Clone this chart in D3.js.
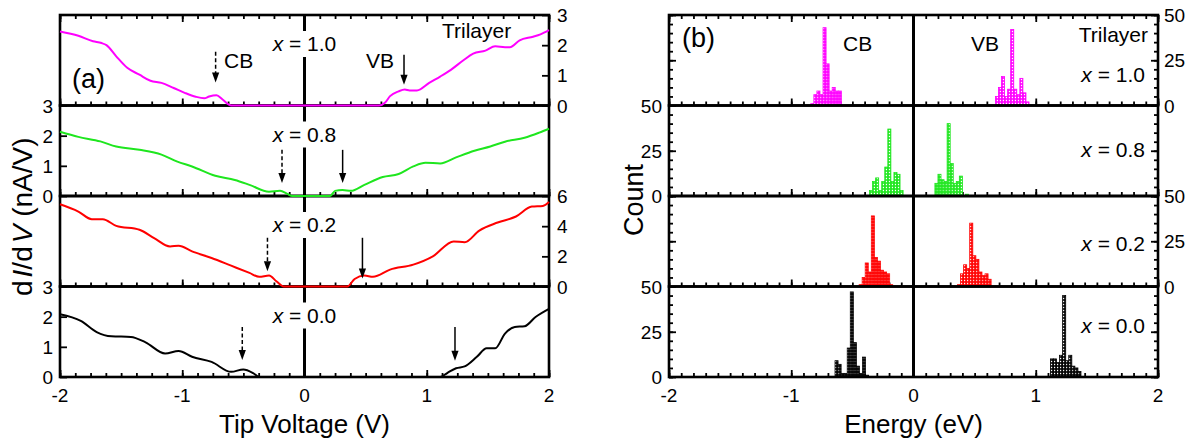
<!DOCTYPE html>
<html>
<head>
<meta charset="utf-8">
<script src="https://cdn.jsdelivr.net/npm/d3@7/dist/d3.min.js"></script>
<style>
  body { margin: 0; background: #fff; }
  svg { display: block; }
  text { font-family: "Liberation Sans", Arial, Helvetica, sans-serif; fill: #000; }
</style>
</head>
<body>
<svg id="chart" width="1198" height="443"></svg>
<script>
// ---------------- data ----------------
// compositions, from the top row to the bottom row
const compositions = ["1.0", "0.8", "0.2", "0.0"];
const rowColors = ["#ff00ff", "#1ee61e", "#ff0000", "#000000"];

// dI/dV spectra: [tip voltage (V), dI/dV (nA/V)]
const stsX10 = [[-2.0,2.45],[-1.85,2.31],[-1.73,2.13],[-1.66,2.07],[-1.62,2.0],[-1.54,1.63],[-1.45,1.25],[-1.35,1.02],[-1.26,0.82],[-1.17,0.75],[-1.07,0.58],[-0.98,0.42],[-0.89,0.29],[-0.82,0.24],[-0.78,0.3],[-0.72,0.34],[-0.67,0.2],[-0.6,0.0],[0.61,0.0],[0.66,0.1],[0.7,0.31],[0.77,0.47],[0.82,0.53],[0.86,0.5],[0.92,0.5],[1.02,0.75],[1.11,0.96],[1.2,1.19],[1.3,1.5],[1.38,1.72],[1.48,1.82],[1.56,1.96],[1.64,1.93],[1.68,1.93],[1.76,2.16],[1.87,2.28],[1.93,2.36],[2.0,2.5]];
const stsX08 = [[-2.0,2.13],[-1.85,1.96],[-1.67,1.81],[-1.54,1.64],[-1.35,1.53],[-1.17,1.37],[-1.04,1.14],[-0.92,0.98],[-0.73,0.67],[-0.57,0.53],[-0.45,0.37],[-0.29,0.14],[-0.2,0.17],[-0.14,0.07],[-0.1,0.0],[0.21,0.0],[0.25,0.17],[0.31,0.2],[0.38,0.17],[0.49,0.37],[0.64,0.63],[0.77,0.73],[0.89,0.98],[0.99,1.1],[1.11,1.08],[1.24,1.28],[1.39,1.5],[1.52,1.64],[1.64,1.8],[1.8,1.93],[1.92,2.1],[2.0,2.23]];
const stsX02 = [[-2.0,5.45],[-1.85,4.97],[-1.74,4.46],[-1.65,4.46],[-1.54,4.02],[-1.35,3.76],[-1.23,3.21],[-1.1,2.66],[-1.03,2.7],[-0.92,2.33],[-0.76,1.89],[-0.6,1.38],[-0.45,0.9],[-0.37,0.64],[-0.29,0.73],[-0.23,0.35],[-0.17,0.0],[0.35,0.0],[0.41,0.5],[0.49,0.73],[0.56,0.64],[0.7,1.12],[0.89,1.45],[1.05,2.0],[1.22,2.99],[1.31,2.93],[1.43,3.71],[1.58,4.24],[1.73,4.64],[1.86,5.3],[1.95,5.34],[2.0,5.6]];
const stsX00 = [[-2.0,2.08],[-1.83,1.86],[-1.7,1.49],[-1.58,1.35],[-1.42,1.33],[-1.3,1.15],[-1.14,0.78],[-1.03,0.86],[-0.92,0.67],[-0.76,0.5],[-0.6,0.17],[-0.5,0.25],[-0.42,0.13],[-0.37,0.0],[1.11,0.0],[1.17,0.14],[1.24,0.29],[1.31,0.35],[1.41,0.67],[1.49,0.95],[1.56,0.95],[1.64,1.44],[1.72,1.66],[1.8,1.68],[1.89,1.99],[2.0,2.26]];
const spectra = [stsX10, stsX08, stsX02, stsX00];

// band-edge markers on the spectra: voltage, arrow tail and tip (nA/V)
const cbEdgeV = [-0.727, -0.184, -0.303, -0.509];
const vbEdgeV = [0.814, 0.312, 0.474, 1.231];
const edgeTail = [1.78, 1.53, 3.23, 1.66];
const cbEdgeTip = [0.76, 0.43, 1.01, 0.56];
const vbEdgeTip = [0.69, 0.43, 0.53, 0.54];

// band-edge histograms, bin width 0.025 eV: first bin edge (eV) and counts
const binWidth = 0.025;
const cbStart = [-0.84, -0.36, -0.445, -0.642];
const vbStart = [0.67, 0.175, 0.36, 1.12];
const cbCountsX10 = [1, 6, 8, 6, 43, 23, 8, 10, 8, 8];
const vbCountsX10 = [5, 10, 16, 5, 9, 42, 9, 6, 15, 7, 2];
const cbCountsX08 = [3, 8, 10, 3, 8, 16, 37, 8, 13, 12, 3];
const vbCountsX08 = [7, 12, 9, 8, 40, 18, 7, 8, 11, 0, 1];
const cbCountsX02 = [1, 5, 13, 8, 39, 16, 14, 9, 8, 7, 1];
const vbCountsX02 = [1, 7, 12, 10, 35, 17, 15, 8, 6, 7, 4];
const cbCountsX00 = [9, 7, 2, 2, 16, 47, 19, 6, 2, 11, 1];
const vbCountsX00 = [10, 10, 8, 12, 45, 9, 12, 6, 5, 3];
const cbCounts = [cbCountsX10, cbCountsX08, cbCountsX02, cbCountsX00];
const vbCounts = [vbCountsX10, vbCountsX08, vbCountsX02, vbCountsX00];

// tick labels
const voltTicks = [-2, -1, 0, 1, 2];
const energyTicks = [-2, -1, 0, 1, 2];
const dIdVTicks = [[0, 1, 2, 3], [0, 1, 2, 3], [0, 2, 4, 6], [0, 1, 2, 3]];
const countTicks = [0, 25, 50];

// ---------------- layout ----------------
const svg = d3.select("#chart");
const top0 = 15, rowH = 90.5, nRows = 4;
const rowTop = i => top0 + i * rowH;
const rowBot = i => top0 + (i + 1) * rowH;
const bottom = rowBot(nRows - 1);

const xa = d3.scaleLinear().domain([-2, 2]).range([60, 549]);
const xb = d3.scaleLinear().domain([-2, 2]).range([669, 1158]);
const ya = d3.range(nRows).map(i => d3.scaleLinear().domain([0, d3.max(dIdVTicks[i])]).range([rowBot(i), rowTop(i)]));
const yb = d3.range(nRows).map(i => d3.scaleLinear().domain([0, 50]).range([rowBot(i), rowTop(i)]));

// fill patterns for histogram bars: solid colour with a fine white dot grid
const defs = svg.append("defs");
rowColors.forEach((c, i) => {
  const p = defs.append("pattern").attr("id", "dots" + i)
    .attr("width", 3).attr("height", 3).attr("patternUnits", "userSpaceOnUse");
  p.append("rect").attr("width", 3).attr("height", 3).attr("fill", c);
  p.append("rect").attr("x", 0.8).attr("y", 0.8).attr("width", 1.4).attr("height", 1.4).attr("fill", "#fff");
});

function tickAxis(g, axis, transform, scale, values, size) {
  g.append("g").attr("transform", transform)
    .call(axis(scale).tickValues(values).tickSize(size).tickFormat(""))
    .call(a => a.select(".domain").remove())
    .call(a => a.selectAll("line").attr("stroke", "#000").attr("stroke-width", 1.8));
}

const minorVolt = d3.range(-16, 17).map(k => k / 8);
const minorEnergy = d3.range(-20, 21).map(k => k / 10);
const minorCount = d3.range(0, 11).map(k => k * 5);

// ---------------- panel (a): spectra ----------------
const ga = svg.append("g");
for (let i = 0; i < nRows; i++) {
  // x ticks on the lower edge of every row, pointing up into it
  tickAxis(ga, d3.axisBottom, `translate(0,${rowBot(i)})`, xa, minorVolt, -4);
  tickAxis(ga, d3.axisBottom, `translate(0,${rowBot(i)})`, xa, voltTicks, -7);
  if (i === 0) {
    tickAxis(ga, d3.axisTop, `translate(0,${rowTop(i)})`, xa, minorVolt, -4);
    tickAxis(ga, d3.axisTop, `translate(0,${rowTop(i)})`, xa, voltTicks, -7);
  }
  const right = (i % 2 === 0);
  if (right) {
    tickAxis(ga, d3.axisRight, `translate(${xa(2)},0)`, ya[i], dIdVTicks[i], -7);
  } else {
    tickAxis(ga, d3.axisLeft, `translate(${xa(-2)},0)`, ya[i], dIdVTicks[i], -7);
  }
  ga.append("g").selectAll("text").data(dIdVTicks[i]).join("text")
    .attr("x", right ? xa(2) + 8 : xa(-2) - 7)
    .attr("y", d => ya[i](d) + 7)
    .attr("text-anchor", right ? "start" : "end")
    .attr("font-size", 19)
    .text(d => String(d));
  ga.append("rect")
    .attr("x", xa(-2)).attr("y", rowTop(i))
    .attr("width", xa(2) - xa(-2)).attr("height", rowH)
    .attr("fill", "none").attr("stroke", "#000").attr("stroke-width", 2.6);
}

// zero-bias line
ga.append("line")
  .attr("x1", xa(0)).attr("x2", xa(0)).attr("y1", rowTop(0)).attr("y2", bottom)
  .attr("stroke", "#000").attr("stroke-width", 3);

// spectra
for (let i = 0; i < nRows; i++) {
  const line = d3.line().x(d => xa(d[0])).y(d => ya[i](d[1])).curve(d3.curveMonotoneX);
  ga.append("path").datum(spectra[i])
    .attr("d", line).attr("fill", "none")
    .attr("stroke", rowColors[i]).attr("stroke-width", 2);
}

// composition labels on a white backing across the zero line
for (let i = 0; i < nRows; i++) {
  const lg = ga.append("g");
  const t = lg.append("text")
    .attr("x", xa(0)).attr("y", rowTop(i) + 36)
    .attr("text-anchor", "middle").attr("font-size", 21);
  t.append("tspan").attr("font-style", "italic").text("x");
  t.append("tspan").text(" = " + compositions[i]);
  const bb = t.node().getBBox();
  lg.insert("rect", "text")
    .attr("x", bb.x - 2).attr("y", bb.y - 1)
    .attr("width", bb.width + 4).attr("height", bb.height + 3)
    .attr("fill", "#fff");
}

// band-edge arrows
function arrow(g, x, yTail, yTip, dashed) {
  const head = 10, halfW = 3.6;
  g.append("line")
    .attr("x1", x).attr("x2", x).attr("y1", yTail).attr("y2", yTip - head + 1)
    .attr("stroke", "#000").attr("stroke-width", 1.5)
    .attr("stroke-dasharray", dashed ? "4,2.5" : null);
  g.append("path")
    .attr("d", `M${x - halfW},${yTip - head}L${x + halfW},${yTip - head}L${x},${yTip}Z`)
    .attr("fill", "#000");
}
for (let i = 0; i < nRows; i++) {
  arrow(ga, xa(cbEdgeV[i]), ya[i](edgeTail[i]), ya[i](cbEdgeTip[i]), true);
  arrow(ga, xa(vbEdgeV[i]), ya[i](edgeTail[i] - (i === 0 ? 0.1 : 0)), ya[i](vbEdgeTip[i]), false);
}

// panel (a) annotations
ga.append("text").attr("x", 224).attr("y", 68).attr("font-size", 21).text("CB");
ga.append("text").attr("x", 366).attr("y", 68).attr("font-size", 21).text("VB");
ga.append("text").attr("x", 442).attr("y", 38).attr("font-size", 21).text("Trilayer");
ga.append("text").attr("x", 72).attr("y", 88).attr("font-size", 27).text("(a)");

ga.append("g").selectAll("text").data(voltTicks).join("text")
  .attr("x", d => xa(d)).attr("y", 402)
  .attr("text-anchor", "middle").attr("font-size", 19)
  .text(d => String(d));
ga.append("text").attr("x", xa(0)).attr("y", 433)
  .attr("text-anchor", "middle").attr("font-size", 26).text("Tip Voltage (V)");

// y title reads bottom to top, starting just above the x tick labels
const yl = ga.append("text")
  .attr("transform", "translate(32,296) rotate(-90)")
  .attr("text-anchor", "start").attr("font-size", 28);
yl.append("tspan").text("d");
yl.append("tspan").attr("font-style", "italic").attr("dx", 3).text("I");
yl.append("tspan").text("/d");
yl.append("tspan").attr("font-style", "italic").attr("dx", 3).text("V");
yl.append("tspan").text(" (nA/V)");

// ---------------- panel (b): histograms ----------------
const gb = svg.append("g");
for (let i = 0; i < nRows; i++) {
  tickAxis(gb, d3.axisBottom, `translate(0,${rowBot(i)})`, xb, minorEnergy, -4);
  tickAxis(gb, d3.axisBottom, `translate(0,${rowBot(i)})`, xb, energyTicks, -7);
  if (i === 0) {
    tickAxis(gb, d3.axisTop, `translate(0,${rowTop(i)})`, xb, minorEnergy, -4);
    tickAxis(gb, d3.axisTop, `translate(0,${rowTop(i)})`, xb, energyTicks, -7);
  }
  tickAxis(gb, d3.axisLeft, `translate(${xb(-2)},0)`, yb[i], minorCount, -4);
  tickAxis(gb, d3.axisLeft, `translate(${xb(-2)},0)`, yb[i], countTicks, -7);
  tickAxis(gb, d3.axisRight, `translate(${xb(2)},0)`, yb[i], minorCount, -4);
  tickAxis(gb, d3.axisRight, `translate(${xb(2)},0)`, yb[i], countTicks, -7);
  const right = (i % 2 === 0);
  gb.append("g").selectAll("text").data(countTicks).join("text")
    .attr("x", right ? xb(2) + 6 : xb(-2) - 7)
    .attr("y", d => yb[i](d) + 7)
    .attr("text-anchor", right ? "start" : "end")
    .attr("font-size", 19)
    .text(d => String(d));

  // bars
  const bars = [];
  cbCounts[i].forEach((c, k) => bars.push({ x0: cbStart[i] + k * binWidth, c }));
  vbCounts[i].forEach((c, k) => bars.push({ x0: vbStart[i] + k * binWidth, c }));
  gb.append("g").selectAll("rect").data(bars.filter(d => d.c > 0)).join("rect")
    .attr("x", d => xb(d.x0))
    .attr("y", d => yb[i](d.c))
    .attr("width", d => xb(d.x0 + binWidth) - xb(d.x0))
    .attr("height", d => yb[i](0) - yb[i](d.c))
    .attr("fill", `url(#dots${i})`)
    .attr("stroke", rowColors[i]).attr("stroke-width", 0.8);

  gb.append("rect")
    .attr("x", xb(-2)).attr("y", rowTop(i))
    .attr("width", xb(2) - xb(-2)).attr("height", rowH)
    .attr("fill", "none").attr("stroke", "#000").attr("stroke-width", 2.6);
}

gb.append("line")
  .attr("x1", xb(0)).attr("x2", xb(0)).attr("y1", rowTop(0)).attr("y2", bottom)
  .attr("stroke", "#000").attr("stroke-width", 3);

// composition labels, right side of each row
const compBaseline = [82, 157, 251, 333];
for (let i = 0; i < nRows; i++) {
  const t = gb.append("text")
    .attr("x", 1145).attr("y", compBaseline[i])
    .attr("text-anchor", "end").attr("font-size", 21);
  t.append("tspan").attr("font-style", "italic").text("x");
  t.append("tspan").text(" = " + compositions[i]);
}

gb.append("text").attr("x", 843).attr("y", 51).attr("font-size", 21).text("CB");
gb.append("text").attr("x", 971).attr("y", 51).attr("font-size", 21).text("VB");
gb.append("text").attr("x", 1148).attr("y", 42).attr("text-anchor", "end").attr("font-size", 21).text("Trilayer");
gb.append("text").attr("x", 682).attr("y", 47).attr("font-size", 27).text("(b)");

gb.append("g").selectAll("text").data(energyTicks).join("text")
  .attr("x", d => xb(d)).attr("y", 402)
  .attr("text-anchor", "middle").attr("font-size", 19)
  .text(d => String(d));
gb.append("text").attr("x", xb(0)).attr("y", 433)
  .attr("text-anchor", "middle").attr("font-size", 26).text("Energy (eV)");
gb.append("text")
  .attr("transform", `translate(643,${(rowTop(0) + bottom) / 2 + 4}) rotate(-90)`)
  .attr("text-anchor", "middle").attr("font-size", 27).text("Count");
</script>
</body>
</html>
